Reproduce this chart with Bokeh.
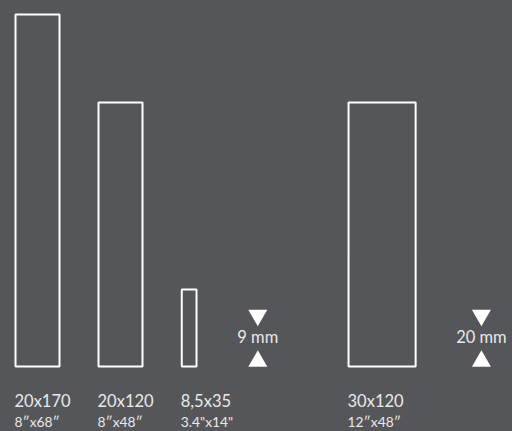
from bokeh.plotting import figure
from bokeh.models import Range1d, ColumnDataSource
from bokeh.core.properties import value
from bokeh.embed import file_html
from bokeh.resources import INLINE

# ---- data ----
size_labels = ["20x170", "20x120", "8,5x35", "30x120"]
inch_labels = ["8″x68″", "8″x48″", "3.4\"x14\"", "12″x48″"]
drawn_widths = [20, 20, 6.7, 30.5]      # drawn width in chart units
drawn_heights = [160, 120, 35, 120]     # drawn height in chart units
thickness_labels = ["9 mm", "20 mm"]

# ---- layout (not data) ----
PX = 2.2                       # pixels per chart unit
W, H = 512, 431
BASE = 366                     # pixel row of the baseline (y = 0)
lefts = [6.82, 44.55, 82.4, 158.2]
ind_x = [116.95, 218.6]

BG = "#55565a"
FG = "#e9e9e9"
FONT = value("Lato")
BIG, SMALL = 16.5, 13.8
# empirical shift of the alphabetic baseline in the renderer
def base_y(px_below_baseline, size):
    return -(px_below_baseline - 0.44 * size) / PX

p = figure(width=W, height=H, output_backend="svg", toolbar_location=None,
           x_range=Range1d(0, W / PX), y_range=Range1d(-(H - BASE) / PX, BASE / PX),
           min_border=0)
p.axis.visible = False
p.grid.visible = False
p.outline_line_color = None
p.background_fill_color = BG
p.border_fill_color = BG

rects = ColumnDataSource(dict(
    left=lefts,
    right=[l + w for l, w in zip(lefts, drawn_widths)],
    bottom=[0] * 4,
    top=drawn_heights,
))
p.quad(left="left", right="right", bottom="bottom", top="top", source=rects,
       fill_alpha=0, line_color="white", line_width=2)

lab = ColumnDataSource(dict(x=[l - 0.45 for l in lefts], s=size_labels, i=inch_labels))
p.text(x="x", y=base_y(42, BIG), text="s", source=lab, text_font=FONT,
       text_font_size=f"{BIG}px", text_color=FG, text_baseline="alphabetic", text_align="left")
p.text(x="x", y=base_y(61.5, SMALL), text="i", source=lab, text_font=FONT,
       text_font_size=f"{SMALL}px", text_color=FG, text_baseline="alphabetic", text_align="left")

ind = ColumnDataSource(dict(x=ind_x, t=thickness_labels))
p.scatter(x="x", y=51.2 / PX, source=ind, marker="inverted_triangle", size=19,
          fill_color="white", line_color=None)
p.scatter(x="x", y=5.2 / PX, source=ind, marker="triangle", size=19,
          fill_color="white", line_color=None)
p.text(x="x", y=base_y(-22, BIG), text="t", source=ind, text_font=FONT,
       text_font_size=f"{BIG}px", text_color=FG, text_baseline="alphabetic", text_align="center")

html = file_html(p, INLINE)
html = html.replace("</head>",
                    "<style>html,body{background:%s;overflow:hidden;}</style></head>" % BG, 1)
open("out.html", "w").write(html)
